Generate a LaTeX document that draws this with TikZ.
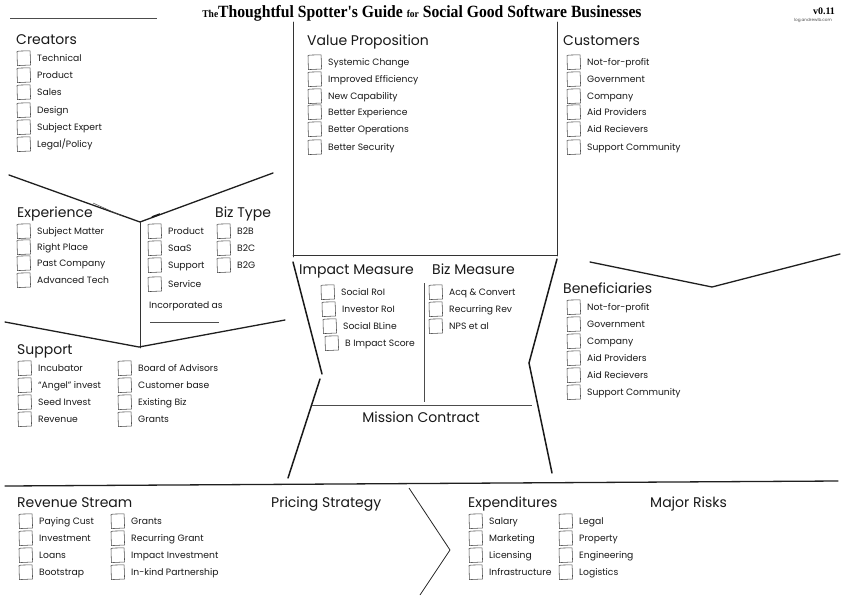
\documentclass[tikz,border=0pt]{standalone}
\usepackage{fontspec}
\setmainfont{Poppins}
\newfontfamily\titlefont{Liberation Serif}
\tikzset{
  hdr/.style={anchor=base west, inner sep=0pt, font=\fontsize{14}{14}\selectfont, text=black!90},
  itm/.style={anchor=base west, inner sep=0pt, font=\fontsize{9.2}{9.2}\selectfont, text=black!90},
  cbx/.style={line width=0.55pt, draw=black!70, line join=round},
  ln/.style={line width=1.3pt, draw=black!88, line cap=round},
  thin/.style={line width=0.8pt, draw=black!80, line cap=round},
}
\newcommand\chk[4]{%
  \draw[cbx] (#2+1.5,#3-6.8) -- (#2,#3-6.3) -- (#2+0.4,#3+7.6) -- (#2+13.6,#3+7) -- (#2+13.1,#3-7.2) -- (#2+0.8,#3-6.9);
  \node[itm] (#1) at (#2+20,#3+3.3) {#4};}
\begin{document}
\begin{tikzpicture}[x=1pt,y=-1pt]
\fill[white] (0,0) rectangle (842,595);
\useasboundingbox (0,0) rectangle (842,595);

% ---------- title ----------
\draw[line width=0.8pt, black!70] (10,18) coordinate (tl1) -- (157,18) coordinate (tl2);
\node[anchor=base, inner sep=0pt] (title) at (422,17) {\scalebox{0.95}[1.04]{\titlefont\bfseries
  {\fontsize{10}{10}\selectfont The}\fontsize{16.5}{16.5}\selectfont Thoughtful Spotter's Guide {\fontsize{10}{10}\selectfont for} Social Good Software Businesses}};
\node[anchor=base, inner sep=0pt, font=\titlefont\bfseries\fontsize{10}{10}\selectfont] (ver) at (824,14) {v0.11};
\node[anchor=base, inner sep=0pt, font=\fontsize{4.2}{4.2}\selectfont, text=black!70] (url) at (813,21) {log.andrewlb.com};

% ---------- structure lines ----------
\draw[thin] (293,22) coordinate (vpl1) -- (293,257) coordinate (vpl2);
\draw[thin] (557,22) coordinate (vpr1) -- (557,256) coordinate (vpr2);
\draw[thin] (293,255) coordinate (vpb1) -- (557,255) coordinate (vpb2);

\draw[ln] (9,175) coordinate (a1) -- (140,222) coordinate (a2) -- (273,173) coordinate (a3);
\draw[line width=0.5pt, black!70] (93,203) coordinate (a4) -- (122,216) coordinate (a5);
\draw[line width=1.6pt, black!90] (152,217) coordinate (a6) -- (160,214) coordinate (a7);
\draw[thin] (140,222) -- (140,348) coordinate (a8);
\draw[ln] (5,322) coordinate (b1) -- (139,347) coordinate (b2) -- (285,320) coordinate (b3);

\draw[line width=1.5pt, black!90, line cap=round] (293,262) coordinate (f1) -- (322,374) coordinate (f2);
\draw[line width=1.5pt, black!90, line cap=round] (320,379) coordinate (f3) -- (288,478) coordinate (f4);
\draw[line width=1.5pt, black!90, line cap=round] (557,259) coordinate (f5) -- (529,363) coordinate (f6) -- (552,473) coordinate (f7);
\draw[line width=0.7pt, black!70] (424,283) coordinate (d1) -- (424,402) coordinate (d2);
\draw[line width=0.7pt, black!70] (312,405) coordinate (m1) -- (532,405) coordinate (m2);

\draw[ln] (590,262) coordinate (r1) -- (712,287) coordinate (r2) -- (840,254) coordinate (r3);

\draw[ln] (5,486) coordinate (h1) -- (838,481) coordinate (h2);
\draw[line width=0.8pt, black!85] (409,488) coordinate (c1) -- (450,550) coordinate (c2) -- (420,595) coordinate (c3);

\draw[line width=0.6pt, black!70] (150,322) coordinate (inc1) -- (219,322) coordinate (inc2);

% ---------- Creators ----------
\node[hdr] (creators) at (16,44) {Creators};
\chk{cr1}{17}{58}{Technical}
\chk{cr2}{17}{75}{Product}
\chk{cr3}{17}{92}{Sales}
\chk{cr4}{17}{110}{Design}
\chk{cr5}{17}{127}{Subject Expert}
\chk{cr6}{17}{144}{Legal/Policy}

% ---------- Value Proposition ----------
\node[hdr] (vp) at (307,45) {Value Proposition};
\chk{vp1}{308}{62}{Systemic Change}
\chk{vp2}{308}{79}{Improved Efficiency}
\chk{vp3}{308}{96}{New Capability}
\chk{vp4}{308}{112}{Better Experience}
\chk{vp5}{308}{129}{Better Operations}
\chk{vp6}{308}{147}{Better Security}

% ---------- Customers ----------
\node[hdr] (cust) at (563,45) {Customers};
\chk{cu1}{567}{62}{Not-for-profit}
\chk{cu2}{567}{79}{Government}
\chk{cu3}{567}{96}{Company}
\chk{cu4}{567}{112}{Aid Providers}
\chk{cu5}{567}{129}{Aid Recievers}
\chk{cu6}{567}{147}{Support Community}

% ---------- Experience / Biz Type ----------
\node[hdr] (exp) at (17,217) {Experience};
\chk{ex1}{17}{231}{Subject Matter}
\chk{ex2}{17}{247}{Right Place}
\chk{ex3}{17}{263}{Past Company}
\chk{ex4}{17}{280}{Advanced Tech}

\chk{pr1}{148}{231}{Product}
\chk{pr2}{148}{248}{SaaS}
\chk{pr3}{148}{265}{Support}
\chk{pr4}{148}{284}{Service}
\node[itm] (incorp) at (149,308) {Incorporated as};

\node[hdr] (biz) at (215,217) {Biz Type};
\chk{bt1}{217}{231}{B2B}
\chk{bt2}{217}{248}{B2C}
\chk{bt3}{217}{265}{B2G}

% ---------- Support ----------
\node[hdr] (sup) at (17,354) {Support};
\chk{su1}{18}{368}{Incubator}
\chk{su2}{18}{385}{“Angel” invest}
\chk{su3}{18}{402}{Seed Invest}
\chk{su4}{18}{419}{Revenue}
\chk{su5}{118}{368}{Board of Advisors}
\chk{su6}{118}{385}{Customer base}
\chk{su7}{118}{402}{Existing Biz}
\chk{su8}{118}{419}{Grants}

% ---------- Measures ----------
\node[hdr] (imp) at (299,274) {Impact Measure};
\chk{im1}{321}{292}{Social RoI}
\chk{im2}{322}{309}{Investor RoI}
\chk{im3}{323}{326}{Social BLine}
\chk{im4}{325}{343}{B Impact Score}
\node[hdr] (bm) at (432,274) {Biz Measure};
\chk{bm1}{429}{292}{Acq \& Convert}
\chk{bm2}{429}{309}{Recurring Rev}
\chk{bm3}{429}{326}{NPS et al}
\node[hdr, anchor=base] (mc) at (421,422) {Mission Contract};

% ---------- Beneficiaries ----------
\node[hdr] (ben) at (563,293) {Beneficiaries};
\chk{be1}{567}{307}{Not-for-profit}
\chk{be2}{567}{324}{Government}
\chk{be3}{567}{341}{Company}
\chk{be4}{567}{358}{Aid Providers}
\chk{be5}{567}{375}{Aid Recievers}
\chk{be6}{567}{392}{Support Community}

% ---------- bottom ----------
\node[hdr] (rev) at (17,507) {Revenue Stream};
\chk{rv1}{19}{521}{Paying Cust}
\chk{rv2}{19}{538}{Investment}
\chk{rv3}{19}{555}{Loans}
\chk{rv4}{19}{572}{Bootstrap}
\chk{rv5}{111}{521}{Grants}
\chk{rv6}{111}{538}{Recurring Grant}
\chk{rv7}{111}{555}{Impact Investment}
\chk{rv8}{111}{572}{In-kind Partnership}

\node[hdr] (price) at (271,507) {Pricing Strategy};

\node[hdr] (expd) at (468,507) {Expenditures};
\chk{xp1}{469}{521}{Salary}
\chk{xp2}{469}{538}{Marketing}
\chk{xp3}{469}{555}{Licensing}
\chk{xp4}{469}{572}{Infrastructure}
\chk{xp5}{559}{521}{Legal}
\chk{xp6}{559}{538}{Property}
\chk{xp7}{559}{555}{Engineering}
\chk{xp8}{559}{572}{Logistics}

\node[hdr] (risk) at (650,507) {Major Risks};
\end{tikzpicture}
\end{document}
